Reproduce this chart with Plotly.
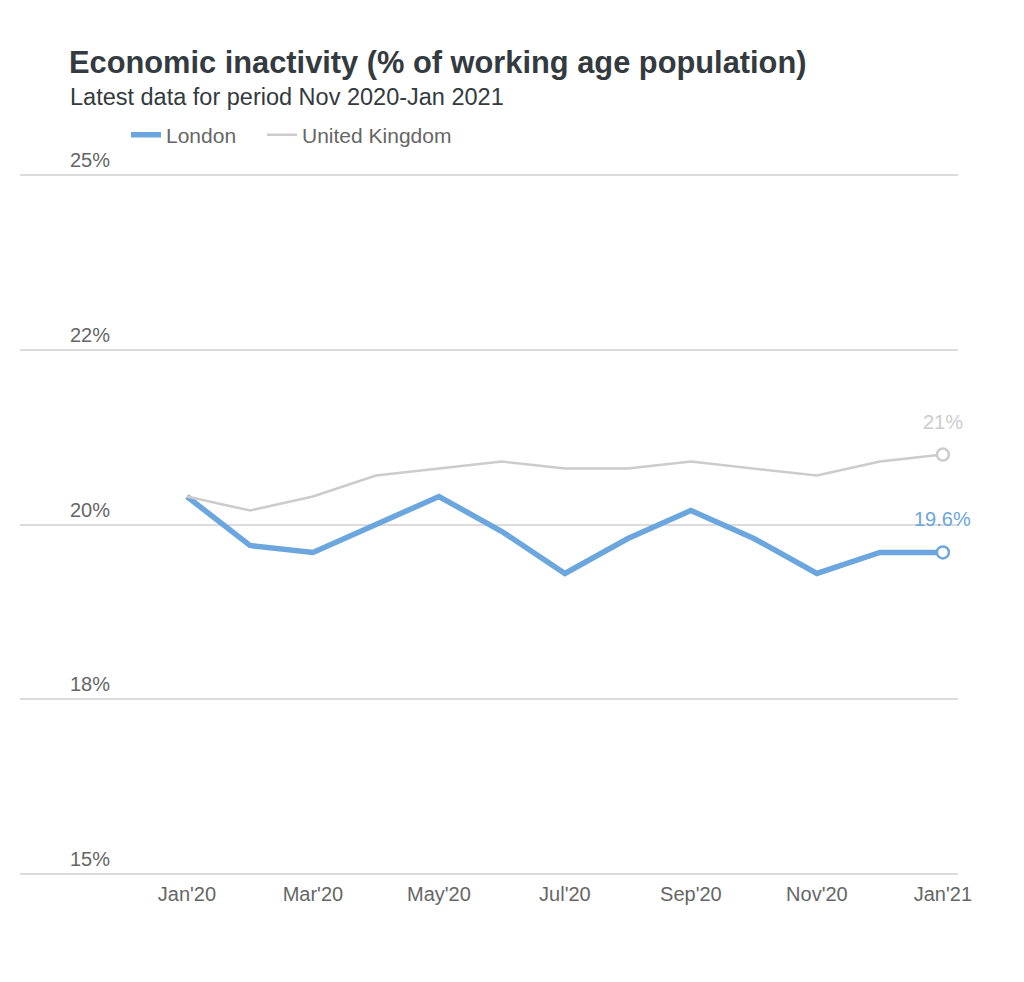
import plotly.graph_objects as go

months = ["Jan'20", "Feb'20", "Mar'20", "Apr'20", "May'20", "Jun'20", "Jul'20",
          "Aug'20", "Sep'20", "Oct'20", "Nov'20", "Dec'20", "Jan'21"]
london = [20.4, 19.7, 19.6, 20.0, 20.4, 19.9, 19.3, 19.8, 20.2, 19.8, 19.3, 19.6, 19.6]
uk = [20.4, 20.2, 20.4, 20.7, 20.8, 20.9, 20.8, 20.8, 20.9, 20.8, 20.7, 20.9, 21.0]
y_tickvals = [15, 17.5, 20, 22.5, 25]
y_ticktext = ["15%", "18%", "20%", "22%", "25%"]
x_tickvals = ["Jan'20", "Mar'20", "May'20", "Jul'20", "Sep'20", "Nov'20", "Jan'21"]
end_labels = {"London": "19.6%", "United Kingdom": "21%"}

BLUE = "#6ca6de"
GREY = "#cccccc"
FONT = "Liberation Sans, Arial, sans-serif"

# page is rendered with an 8px body margin; layout values compensate for it
fig = go.Figure()
fig.add_trace(go.Scatter(
    x=months, y=london, name="London", mode="lines", legend="legend",
    line=dict(color=BLUE, width=5.5), hoverinfo="skip"))
fig.add_trace(go.Scatter(
    x=months, y=uk, name="United Kingdom", mode="lines", legend="legend2",
    line=dict(color=GREY, width=2.5), hoverinfo="skip"))

annotations = [
    dict(text="<b>Economic inactivity (% of working age population)</b>",
         xref="paper", yref="paper", x=0, y=1, xshift=47, yshift=112,
         xanchor="left", yanchor="middle", showarrow=False,
         font=dict(size=30.8, color="#333a40", family=FONT)),
    dict(text="Latest data for period Nov 2020-Jan 2021",
         xref="paper", yref="paper", x=0, y=1, xshift=48, yshift=77,
         xanchor="left", yanchor="middle", showarrow=False,
         font=dict(size=23.5, color="#333a40", family=FONT)),
]

# y-axis labels sit above their gridlines, right-aligned
for v, t in zip(y_tickvals, y_ticktext):
    annotations.append(dict(
        text=t, xref="paper", yref="y", x=0, y=v, xshift=92, yshift=2,
        xanchor="right", yanchor="bottom", showarrow=False,
        font=dict(size=20, color="#666666", family=FONT)))

for name, vals, col in [("London", london, BLUE), ("United Kingdom", uk, GREY)]:
    fig.add_trace(go.Scatter(
        x=[months[-1]], y=[vals[-1]], mode="markers",
        marker=dict(symbol="circle", size=12, color="white",
                    line=dict(color=col, width=2.5)),
        showlegend=False, hoverinfo="skip", cliponaxis=False))
    annotations.append(dict(
        text=end_labels[name], x=months[-1], y=vals[-1], xref="x", yref="y",
        yshift=33, showarrow=False, xanchor="center", yanchor="middle",
        font=dict(color=col, size=20, family=FONT)))

legend_common = dict(orientation="h", xref="container", yref="container",
                     y=1 - 127 / 982, xanchor="left", yanchor="middle",
                     font=dict(size=21, color="#666666"), bgcolor="rgba(0,0,0,0)")

fig.update_layout(
    width=1024, height=982,
    paper_bgcolor="white", plot_bgcolor="white",
    margin=dict(l=12, r=74, t=166, b=115),
    font=dict(family=FONT, color="#666666", size=20),
    showlegend=True,
    legend=dict(x=118 / 1024, **legend_common),
    legend2=dict(x=254 / 1024, **legend_common),
    annotations=annotations,
)

fig.update_xaxes(
    type="category", range=[-2.65, 12.24],
    tickmode="array", tickvals=x_tickvals, ticktext=x_tickvals,
    showgrid=False, showline=False, zeroline=False, ticks="",
    tickfont=dict(size=20, color="#666666"), ticklabelstandoff=5)
fig.update_yaxes(
    range=[14.985, 25.015], tickmode="array", tickvals=y_tickvals,
    showticklabels=False,
    showgrid=True, gridcolor="#dcdcdc", gridwidth=1.5, zeroline=False, showline=False,
    ticks="")

fig.write_html("out.html")
